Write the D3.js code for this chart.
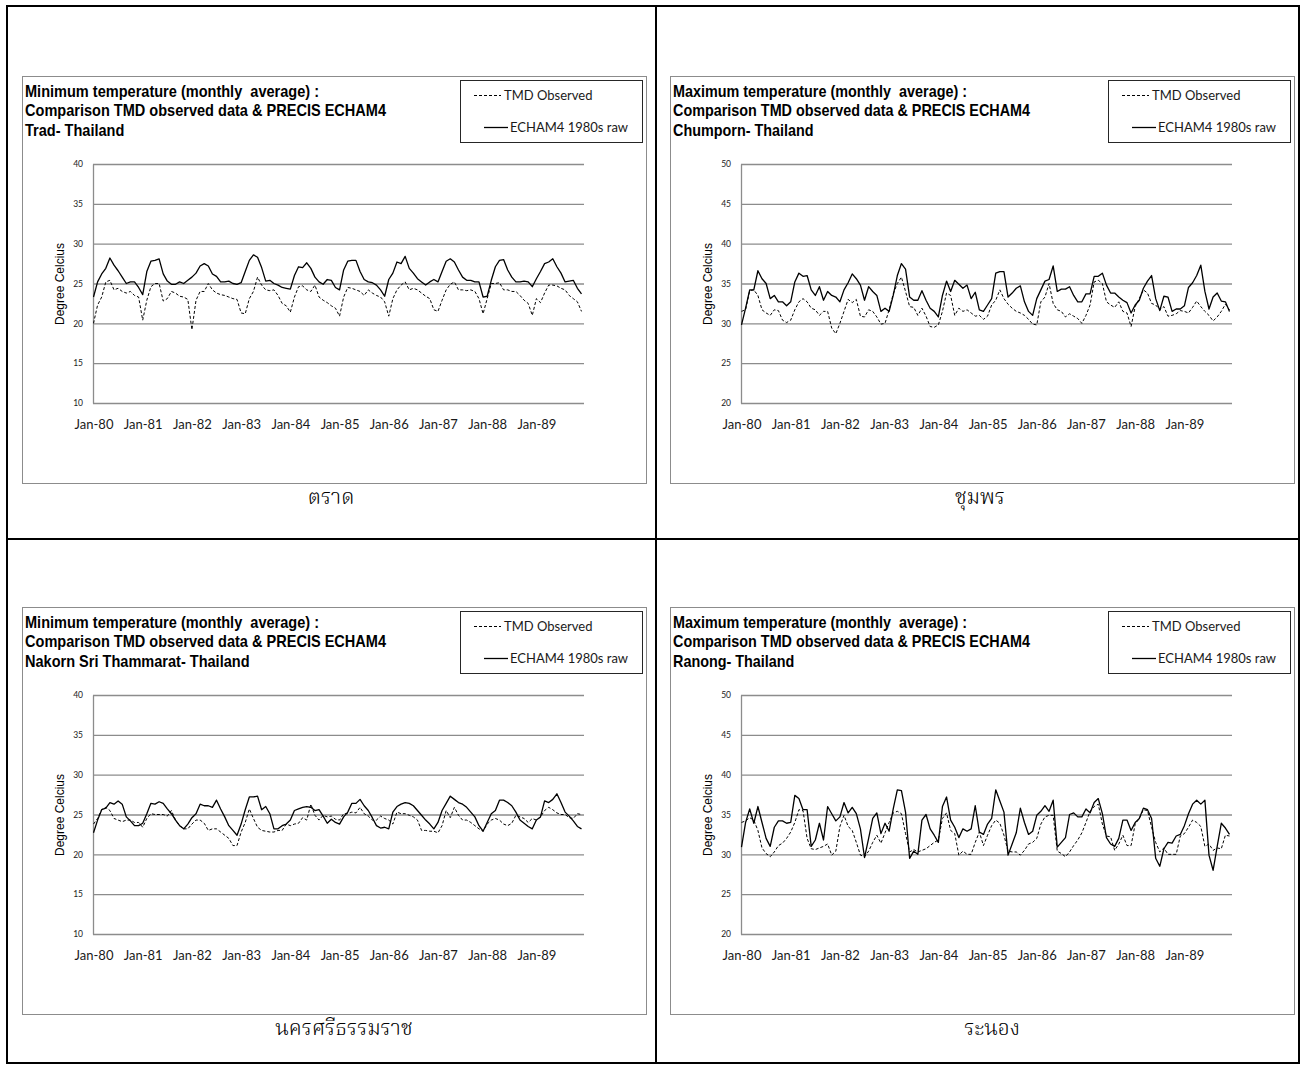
<!DOCTYPE html>
<html>
<head>
<meta charset="utf-8">
<script src="https://cdn.jsdelivr.net/npm/d3@7"></script>
<style>
  html, body { margin: 0; padding: 0; background: #fff; }
  svg { display: block; }
</style>
</head>
<body>
<svg id="chart" width="1303" height="1065"></svg>
<script>
// ---- data -------------------------------------------------------------
const monthLabels = ["Jan-80","Jan-81","Jan-82","Jan-83","Jan-84","Jan-85","Jan-86","Jan-87","Jan-88","Jan-89"];
const ticksMin = [10, 15, 20, 25, 30, 35, 40];
const ticksMax = [20, 25, 30, 35, 40, 45, 50];
const seriesNames = ["TMD Observed", "ECHAM4 1980s raw"];

// Trad – monthly minimum temperature, Jan 1980 – Dec 1989
const tradObserved = [
  20.0, 22.3, 23.3, 25.2, 25.4, 24.2, 24.4, 24.0, 23.8, 24.0, 23.5, 23.3,
  20.4, 22.9, 24.6, 25.0, 25.0, 22.8, 23.1, 24.0, 23.8, 23.4, 23.3, 23.0,
  19.2, 22.9, 24.0, 24.0, 25.0, 24.2, 23.8, 23.6, 23.5, 23.3, 23.1, 23.0,
  21.3, 21.2, 23.1, 24.0, 25.8, 24.8, 24.2, 24.1, 24.2, 23.5, 22.5, 22.2,
  21.4, 23.3, 24.6, 24.7, 24.2, 24.0, 24.8, 23.3, 22.9, 22.6, 22.2, 21.9,
  20.9, 23.3, 24.5, 24.4, 24.2, 24.0, 23.5, 24.2, 23.8, 23.5, 23.3, 22.7,
  20.9, 23.1, 24.2, 24.8, 25.2, 24.2, 24.4, 24.2, 23.8, 23.4, 23.1, 21.7,
  21.5, 22.9, 24.2, 24.9, 25.2, 24.2, 24.2, 24.1, 24.2, 24.0, 23.1, 21.2,
  23.1, 25.0, 25.0, 25.1, 24.2, 24.2, 24.0, 24.0, 23.5, 22.9, 22.5, 21.0,
  23.1, 22.6, 23.8, 24.8, 24.8, 24.7, 24.4, 24.2, 23.5, 23.1, 22.7, 21.5
];
const tradEcham = [
  23.3, 25.2, 26.2, 26.9, 28.2, 27.3, 26.6, 25.8, 25.0, 25.2, 25.2, 24.5,
  23.6, 26.5, 27.8, 27.9, 28.1, 26.2, 25.3, 24.9, 24.9, 25.2, 25.0, 25.4,
  25.8, 26.3, 27.2, 27.5, 27.2, 26.2, 25.9, 25.2, 25.2, 25.3, 25.0, 24.9,
  25.1, 26.5, 27.9, 28.6, 28.3, 27.0, 25.3, 25.4, 25.0, 24.8, 24.5, 24.4,
  24.3, 26.0, 27.1, 27.0, 27.6, 26.9, 25.8, 25.2, 24.9, 25.5, 25.4, 24.5,
  24.2, 26.7, 27.8, 27.9, 27.9, 26.5, 25.5, 25.2, 25.1, 24.8, 24.2, 23.4,
  25.5, 26.3, 27.7, 27.5, 28.4, 26.9, 26.3, 25.6, 25.2, 24.8, 25.2, 25.5,
  25.2, 26.5, 27.8, 28.1, 27.7, 26.7, 25.8, 25.4, 25.4, 25.2, 25.2, 23.3,
  23.4, 25.4, 27.1, 27.9, 28.0, 26.7, 25.8, 25.2, 25.2, 25.3, 25.2, 24.6,
  25.6, 26.5, 27.5, 27.7, 28.1, 27.1, 26.3, 25.2, 25.3, 25.4, 24.4, 23.7
];

// Chumporn – monthly maximum temperature
const chumpornObserved = [
  31.5, 31.7, 34.1, 34.2, 33.5, 31.7, 31.3, 31.0, 31.7, 31.6, 30.4, 30.1,
  30.4, 31.7, 32.7, 33.1, 32.7, 31.9, 31.7, 31.0, 31.5, 31.5, 29.4, 28.7,
  30.0, 31.5, 33.0, 32.6, 33.0, 30.9, 30.8, 31.7, 31.5, 30.8, 29.9, 30.0,
  31.7, 33.7, 35.0, 35.8, 34.0, 32.1, 32.0, 31.0, 31.9, 30.9, 29.6, 29.5,
  29.8, 31.5, 33.8, 33.5, 31.0, 31.9, 31.5, 31.7, 31.3, 30.9, 31.0, 30.5,
  30.9, 32.3, 32.9, 34.2, 33.1, 32.4, 31.9, 31.5, 31.3, 31.0, 30.5, 29.9,
  29.8, 32.7, 33.3, 35.0, 32.5, 31.7, 31.5, 30.8, 31.2, 30.9, 30.6, 30.0,
  31.0, 32.3, 35.2, 35.4, 35.0, 32.7, 32.3, 32.0, 32.7, 31.5, 31.3, 29.6,
  32.1, 33.1, 34.2, 33.8, 32.5, 32.3, 31.7, 32.1, 30.9, 31.0, 31.2, 31.6,
  31.5, 31.3, 32.0, 32.8, 32.1, 31.5, 31.0, 30.3, 30.8, 31.5, 32.4, 31.7
];
const chumpornEcham = [
  29.8, 31.9, 34.2, 34.2, 36.6, 35.6, 35.0, 33.1, 33.5, 32.7, 32.7, 32.2,
  32.7, 35.2, 36.3, 35.9, 36.0, 34.2, 33.5, 34.6, 32.9, 34.0, 33.5, 33.3,
  32.7, 34.2, 35.1, 36.2, 35.6, 34.8, 32.9, 34.6, 34.0, 33.5, 31.5, 31.9,
  31.5, 33.5, 36.0, 37.5, 36.8, 33.3, 32.9, 32.9, 34.1, 32.9, 31.9, 31.5,
  30.8, 33.5, 35.3, 34.0, 35.4, 34.9, 34.4, 34.8, 33.1, 33.9, 31.7, 31.5,
  32.3, 33.1, 36.3, 36.5, 36.5, 33.3, 33.8, 34.4, 34.7, 32.7, 31.5, 31.0,
  33.1, 34.2, 35.3, 35.5, 37.2, 34.0, 34.3, 34.3, 34.6, 33.5, 32.7, 32.7,
  33.7, 33.7, 35.9, 35.9, 36.3, 34.8, 33.8, 33.8, 33.3, 32.9, 32.6, 31.3,
  32.3, 32.9, 34.4, 35.3, 36.0, 33.1, 31.6, 33.4, 33.3, 31.5, 31.8, 31.8,
  32.2, 34.5, 35.1, 36.0, 37.3, 34.0, 31.8, 33.3, 33.8, 32.8, 32.7, 31.5
];

// Nakorn Sri Thammarat – monthly minimum temperature
const nakornObserved = [
  23.8, 24.5, 25.6, 25.9, 25.5, 24.5, 24.3, 24.1, 24.3, 24.3, 24.0, 24.0,
  23.4, 24.5, 25.1, 25.0, 25.0, 25.0, 24.8, 25.5, 24.3, 23.6, 23.2, 23.2,
  23.8, 24.3, 24.3, 23.9, 23.0, 23.2, 23.2, 22.8, 22.4, 22.0, 21.1, 21.1,
  22.8, 24.0, 25.7, 24.5, 23.4, 23.0, 22.9, 22.8, 22.8, 23.0, 23.0, 23.8,
  23.6, 23.8, 23.9, 24.6, 24.3, 26.3, 24.9, 24.3, 24.9, 24.7, 24.8, 24.4,
  24.3, 25.1, 25.1, 25.3, 25.2, 25.9, 25.1, 24.8, 24.3, 24.3, 24.8, 24.5,
  24.3, 23.8, 25.3, 25.1, 25.1, 24.9, 24.7, 24.3, 23.0, 23.0, 22.9, 22.9,
  22.7, 23.6, 25.5, 24.6, 25.9, 24.9, 24.3, 24.3, 24.0, 23.6, 23.2, 22.9,
  23.8, 24.3, 24.5, 24.3, 23.8, 23.6, 23.9, 24.9, 24.7, 24.5, 24.0, 24.5,
  24.3, 24.7, 25.5, 25.9, 25.6, 25.2, 25.0, 25.0, 24.6, 24.5, 25.1, 25.0
];
const nakornEcham = [
  22.7, 24.3, 25.6, 25.8, 26.5, 26.3, 26.7, 26.3, 24.7, 24.2, 23.6, 23.6,
  23.9, 25.1, 26.4, 26.3, 26.6, 26.4, 25.7, 25.1, 24.3, 23.6, 23.2, 23.8,
  24.6, 25.1, 26.3, 26.1, 26.1, 25.9, 26.8, 25.7, 24.7, 23.6, 23.0, 22.4,
  23.8, 25.6, 27.2, 27.2, 27.3, 25.6, 26.0, 25.1, 23.2, 23.2, 23.6, 23.8,
  24.3, 25.5, 25.7, 25.9, 26.0, 25.9, 25.5, 25.6, 24.8, 23.9, 24.4, 24.0,
  23.8, 24.7, 25.3, 26.4, 26.4, 26.9, 26.1, 25.5, 24.6, 23.6, 23.3, 23.4,
  23.2, 25.3, 26.0, 26.3, 26.5, 26.4, 26.1, 25.5, 24.9, 24.3, 23.8, 23.2,
  24.0, 25.5, 26.4, 27.3, 26.9, 26.5, 26.3, 25.9, 25.3, 24.7, 23.6, 22.9,
  24.0, 25.1, 25.5, 26.8, 26.8, 26.5, 26.1, 25.3, 24.3, 23.9, 23.5, 23.2,
  24.3, 24.7, 26.7, 26.5, 26.9, 27.6, 26.5, 25.3, 24.8, 24.2, 23.5, 23.2
];

// Ranong – monthly maximum temperature
const ranongObserved = [
  34.0, 34.2, 34.6, 34.3, 33.0, 30.8, 30.1, 29.7, 30.3, 31.1, 31.4, 32.0,
  32.8, 34.0, 35.6, 35.5, 32.0, 30.7, 30.6, 30.8, 31.0, 31.3, 29.9, 30.4,
  33.5, 34.9, 33.5, 33.0, 31.5, 29.9, 29.7, 30.4, 31.5, 32.4, 31.4, 32.7,
  34.0, 35.2, 35.4, 35.1, 32.6, 30.3, 30.6, 30.3, 30.5, 30.7, 31.1, 31.5,
  31.8, 34.5, 35.2, 33.0, 32.6, 29.9, 30.4, 30.0, 30.0, 31.5, 32.8, 31.1,
  32.4, 33.6, 34.3, 33.9, 32.4, 30.4, 30.3, 30.3, 29.9, 30.5, 31.3, 31.5,
  32.0, 33.8, 34.7, 34.9, 34.9, 30.4, 30.1, 29.7, 30.3, 31.1, 31.8, 32.7,
  34.0, 35.4, 36.0, 36.3, 33.8, 32.3, 32.2, 30.5, 31.3, 32.4, 31.1, 31.1,
  33.8, 34.5, 35.6, 35.5, 33.4, 31.5, 30.3, 30.8, 30.0, 30.0, 30.0, 32.3,
  32.6, 33.4, 34.3, 34.0, 33.5, 31.0, 31.3, 30.5, 30.8, 30.7, 32.4, 32.3
];
const ranongEcham = [
  30.9, 34.0, 35.7, 33.9, 36.0, 34.0, 32.0, 31.0, 33.4, 34.2, 34.2, 33.9,
  34.0, 37.4, 37.0, 35.6, 35.6, 31.0, 31.8, 33.9, 31.8, 36.0, 35.1, 34.2,
  34.7, 36.5, 35.2, 35.9, 35.1, 33.2, 29.6, 32.0, 34.5, 35.2, 32.6, 33.9,
  32.9, 35.7, 38.1, 38.0, 35.3, 29.5, 30.4, 30.0, 34.3, 35.0, 33.2, 32.4,
  31.5, 36.0, 37.2, 34.3, 33.4, 32.1, 33.2, 32.9, 33.2, 36.1, 32.8, 32.5,
  33.8, 34.5, 38.1, 36.7, 35.3, 29.9, 31.3, 32.7, 35.8, 34.0, 32.5, 32.9,
  34.9, 35.4, 36.1, 35.4, 36.8, 30.9, 31.5, 32.1, 35.0, 35.2, 34.7, 34.7,
  35.7, 35.2, 36.5, 37.0, 35.1, 32.1, 31.3, 31.0, 32.0, 34.3, 34.3, 33.0,
  34.0, 34.5, 35.8, 35.6, 34.5, 29.5, 28.5, 30.7, 31.5, 31.4, 32.3, 32.5,
  33.6, 35.1, 36.3, 36.8, 36.3, 36.8, 29.9, 28.0, 31.0, 33.9, 33.3, 32.5
];

// ---- panel definitions ----------------------------------------------------
const subtitle = "Comparison TMD observed data & PRECIS ECHAM4";
const panels = [
  { dx: 0,   dy: 0,   head: "Minimum temperature (monthly  average) :", place: "Trad- Thailand",
    thai: "ตราด", thaiX: 331, domain: [10, 40], ticks: ticksMin, obs: tradObserved, model: tradEcham },
  { dx: 648, dy: 0,   head: "Maximum temperature (monthly  average) :", place: "Chumporn- Thailand",
    thai: "ชุมพร", thaiX: 332, domain: [20, 50], ticks: ticksMax, obs: chumpornObserved, model: chumpornEcham },
  { dx: 0,   dy: 531, head: "Minimum temperature (monthly  average) :", place: "Nakorn Sri Thammarat- Thailand",
    thai: "นครศรีธรรมราช", thaiX: 344, domain: [10, 40], ticks: ticksMin, obs: nakornObserved, model: nakornEcham },
  { dx: 648, dy: 531, head: "Maximum temperature (monthly  average) :", place: "Ranong- Thailand",
    thai: "ระนอง", thaiX: 344, domain: [20, 50], ticks: ticksMax, obs: ranongObserved, model: ranongEcham }
];

const svg = d3.select("#chart");

// outer table grid
const grid = svg.append("g").attr("class", "table-grid")
  .attr("stroke", "#000").attr("stroke-width", 2).attr("fill", "none");
grid.append("rect").attr("x", 7).attr("y", 6).attr("width", 1292).attr("height", 1057);
grid.append("line").attr("x1", 656).attr("x2", 656).attr("y1", 6).attr("y2", 1063);
grid.append("line").attr("x1", 7).attr("x2", 1299).attr("y1", 539).attr("y2", 539);

const titleFont = "'Liberation Sans Narrow', 'Arial Narrow', 'Liberation Sans', Arial, sans-serif";
const bodyFont = "Lato, Carlito, Calibri, 'Open Sans', sans-serif";
const thaiFont = "'Noto Serif Thai', 'Noto Sans Thai Looped', Loma, Garuda, Norasi, Kinnari, 'Tlwg Typo', 'Noto Sans Thai', sans-serif";

panels.forEach(p => {
  const g = svg.append("g").attr("transform", `translate(${p.dx},${p.dy})`);

  // chart area frame
  g.append("rect")
    .attr("x", 22.5).attr("y", 76.5).attr("width", 624).attr("height", 407)
    .attr("fill", "#fff").attr("stroke", "#8c8c8c").attr("stroke-width", 1);

  // three-line heading
  const heads = [p.head, subtitle, p.place];
  const headText = g.append("g")
    .attr("font-family", titleFont).attr("font-weight", "bold")
    .attr("font-size", 17).attr("fill", "#000");
  const nodes = heads.map((t, i) => headText.append("text")
    .attr("x", 25).attr("y", 96.5 + i * 19.8)
    .style("white-space", "pre")
    .text(t));
  const k = 294 / nodes[0].node().getComputedTextLength();
  nodes.forEach(n => {
    const w = n.node().getComputedTextLength();
    n.attr("textLength", w * k).attr("lengthAdjust", "spacingAndGlyphs");
  });

  // legend
  const lg = g.append("g");
  lg.append("rect").attr("x", 460.5).attr("y", 80.5).attr("width", 182).attr("height", 62)
    .attr("fill", "#fff").attr("stroke", "#262626").attr("stroke-width", 1);
  lg.append("line").attr("x1", 474).attr("x2", 501).attr("y1", 95.5).attr("y2", 95.5)
    .attr("stroke", "#000").attr("stroke-width", 1).attr("stroke-dasharray", "3,2");
  lg.append("line").attr("x1", 484).attr("x2", 508).attr("y1", 127.5).attr("y2", 127.5)
    .attr("stroke", "#000").attr("stroke-width", 1.3);
  lg.append("text").attr("x", 504).attr("y", 100).text(seriesNames[0])
    .attr("font-family", bodyFont).attr("font-size", 13).attr("fill", "#1a1a1a");
  lg.append("text").attr("x", 510).attr("y", 132).text(seriesNames[1])
    .attr("font-family", bodyFont).attr("font-size", 13).attr("fill", "#1a1a1a");

  // scales
  const x = d3.scaleLinear().domain([0, 119]).range([93.5, 581.5]);
  const y = d3.scaleLinear().domain(p.domain).range([403, 164]);

  // value axis with gridlines
  const yAxis = g.append("g").attr("transform", "translate(93,0)")
    .call(d3.axisLeft(y).tickValues(p.ticks).tickSize(-491).tickSizeOuter(0).tickPadding(10));
  yAxis.select(".domain").attr("stroke", "#8c8c8c").attr("stroke-width", 1.3);
  yAxis.selectAll(".tick line").attr("stroke", "#8c8c8c").attr("stroke-width", 1.3);
  yAxis.selectAll(".tick text")
    .attr("font-family", bodyFont).attr("font-size", 8.5).attr("fill", "#222");

  // time axis labels
  const xAxis = g.append("g").attr("transform", "translate(0,403)")
    .call(d3.axisBottom(x)
      .tickValues(monthLabels.map((_, i) => i * 12))
      .tickFormat((d, i) => monthLabels[i])
      .tickSize(0).tickPadding(17));
  xAxis.select(".domain").remove();
  xAxis.selectAll(".tick text")
    .attr("font-family", bodyFont).attr("font-size", 13).attr("fill", "#1a1a1a");

  // axis title
  g.append("text")
    .attr("transform", "translate(64,284) rotate(-90)")
    .attr("text-anchor", "middle")
    .attr("font-family", "'Liberation Sans', Arial, sans-serif")
    .attr("font-size", 12).attr("fill", "#000")
    .text("Degree Celcius");

  // series
  const line = d3.line().x((d, i) => x(i)).y(d => y(d));
  g.append("path").datum(p.obs).attr("d", line)
    .attr("fill", "none").attr("stroke", "#000").attr("stroke-width", 1)
    .attr("stroke-dasharray", "3,2");
  g.append("path").datum(p.model).attr("d", line)
    .attr("fill", "none").attr("stroke", "#000").attr("stroke-width", 1.3)
    .attr("stroke-linejoin", "round");

  // station name in Thai
  g.append("text")
    .attr("x", p.thaiX).attr("y", 504)
    .attr("text-anchor", "middle")
    .attr("font-family", thaiFont).attr("font-size", 21).attr("font-weight", 300)
    .attr("fill", "#000")
    .text(p.thai);
});
</script>
</body>
</html>
